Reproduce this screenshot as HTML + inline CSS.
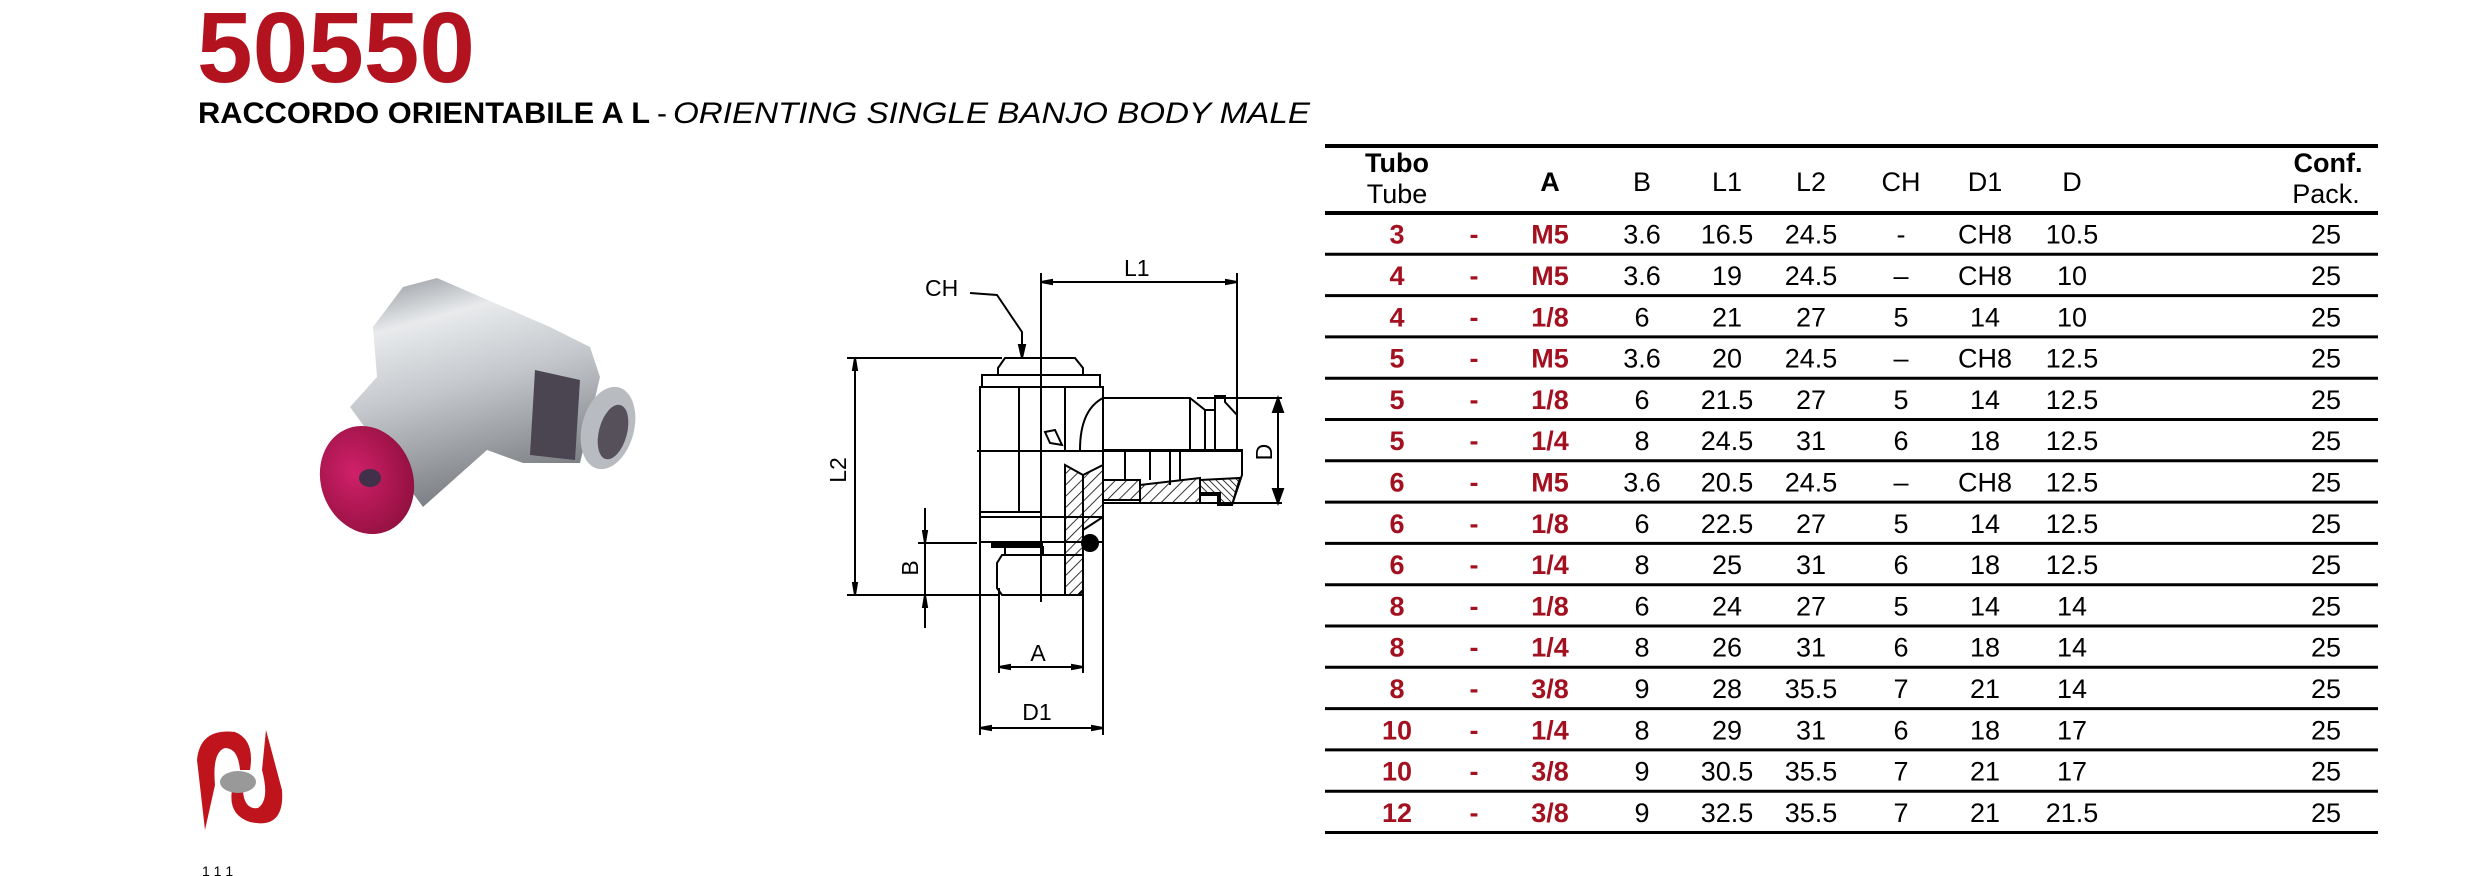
<!DOCTYPE html>
<html><head><meta charset="utf-8"><style>
html,body{margin:0;padding:0;background:#fff;}
svg{display:block}
</style></head><body>
<svg width="2480" height="876" viewBox="0 0 2480 876" xmlns="http://www.w3.org/2000/svg" font-family="Liberation Sans, sans-serif">
<defs>
<pattern id="h" width="8" height="8" patternUnits="userSpaceOnUse" patternTransform="rotate(45)"><line x1="0" y1="0" x2="0" y2="8" stroke="#000" stroke-width="1.6"/></pattern>
<pattern id="h2" width="5" height="5" patternUnits="userSpaceOnUse" patternTransform="rotate(-45)"><line x1="0" y1="0" x2="0" y2="5" stroke="#000" stroke-width="1.6"/></pattern>
<linearGradient id="met" x1="0" y1="0" x2="0.3" y2="1"><stop offset="0" stop-color="#8a8f94"/><stop offset="0.25" stop-color="#e8eaec"/><stop offset="0.55" stop-color="#c4c8cc"/><stop offset="1" stop-color="#7c8085"/></linearGradient>
<radialGradient id="red" cx="0.4" cy="0.4" r="0.7"><stop offset="0" stop-color="#d0206a"/><stop offset="1" stop-color="#8e0f3c"/></radialGradient>
</defs>

<text x="197" y="82" font-size="100" font-weight="bold" fill="#b3121f" textLength="278" lengthAdjust="spacingAndGlyphs">50550</text>
<text x="198" y="123" font-size="30" font-weight="bold" fill="#000" textLength="452" lengthAdjust="spacingAndGlyphs">RACCORDO ORIENTABILE A L</text>
<text x="657" y="123" font-size="30" fill="#000">-</text>
<text x="673" y="123" font-size="30" font-style="italic" fill="#000" textLength="637" lengthAdjust="spacingAndGlyphs">ORIENTING SINGLE BANJO BODY MALE</text>

<!-- Photo -->
<g>
<polygon points="403,287 437,278 550,327 590,347 600,377 580,463 523,463 487,450 423,507 350,407 377,377 373,327" fill="url(#met)"/>
<polygon points="535,370 580,380 575,460 530,455" fill="#4a4550"/>
<ellipse cx="608" cy="428" rx="26" ry="42" fill="#b8bcc0" transform="rotate(15 608 428)"/>
<ellipse cx="613" cy="432" rx="14" ry="28" fill="#55505a" transform="rotate(15 613 432)"/>
<ellipse cx="367" cy="480" rx="46" ry="55" fill="url(#red)" transform="rotate(-20 367 480)"/>
<ellipse cx="370" cy="478" rx="11" ry="9" fill="#40304a"/>
</g>

<!-- Logo -->
<g>
<path d="M205,830 L197,760 Q200,728 235,732 Q255,740 250,770 L240,770 Q238,748 225,748 Q212,752 215,785 Z" fill="#c0141c"/>
<path d="M266,730 L282,790 Q285,830 250,822 Q228,815 232,790 L243,792 Q245,810 258,808 Q270,800 262,770 Z" fill="#c0141c"/>
<ellipse cx="238" cy="782" rx="18" ry="11" fill="#999"/>
<text x="202" y="876" font-size="14" fill="#000">1 1 1</text>
</g>

<!-- Drawing -->
<g stroke="#000" fill="none" stroke-width="2">
<polyline points="970,293 997,295 1022,332 1022,352"/>
<polygon points="1019,345 1025,345 1022,358" fill="#000"/>
<line x1="1041" y1="273" x2="1041" y2="602"/>
<line x1="1041" y1="282" x2="1237" y2="282"/>
<line x1="1237" y1="273" x2="1237" y2="420"/>
<polygon points="1041,282 1052,280 1052,284" fill="#000"/>
<polygon points="1237,282 1226,280 1226,284" fill="#000"/>
<line x1="847" y1="358" x2="1002" y2="358"/>
<line x1="847" y1="595" x2="1000" y2="595"/>
<line x1="855" y1="358" x2="855" y2="595"/>
<polygon points="855,358 853,370 857,370" fill="#000"/>
<polygon points="855,595 853,583 857,583" fill="#000"/>
<polygon points="998,368 1005,358 1075,358 1083,368 1083,375 998,375"/>
<rect x="982" y="375" width="118" height="12"/>
<rect x="980" y="387" width="123" height="130"/>
<line x1="1019" y1="387" x2="1019" y2="512"/>
<line x1="1065" y1="387" x2="1065" y2="450"/>
<line x1="980" y1="512" x2="1041" y2="512"/>
<rect x="980" y="517" width="123" height="25"/>
<rect x="992" y="542" width="50" height="5" fill="#000"/>
<rect x="1005" y="547" width="38" height="8"/>
<polygon points="997,563 1002,555 1083,555 1083,590 1078,595 1002,595 997,588"/>
<polygon points="1065,465 1083,475 1083,595 1065,595" fill="url(#h)"/>
<polygon points="1083,475 1103,465 1103,517 1083,530" fill="url(#h)"/>
<circle cx="1090" cy="543" r="8" fill="#000"/>
<polygon points="1050,443 1045,432 1055,430 1062,445" />
<path d="M1103,398 L1190,398 L1205,410 L1205,450"/>
<path d="M1103,398 Q1080,410 1080,450"/>
<line x1="1190" y1="398" x2="1190" y2="450"/>
<polygon points="1215,396 1225,396 1225,402 1237,415 1237,450 1215,450"/>
<line x1="1205" y1="410" x2="1215" y2="410"/>
<polygon points="1103,450 1103,503 1200,503 1200,493 1220,493 1220,505 1232,505 1242,475 1242,450" />
<polygon points="1103,480 1140,480 1140,500 1103,500" fill="url(#h)"/>
<polygon points="1140,485 1200,478 1200,503 1140,503" fill="url(#h)"/>
<polygon points="1200,480 1240,478 1232,505 1218,505 1218,495 1200,495" fill="url(#h2)"/>
<line x1="1125" y1="450" x2="1125" y2="480"/>
<line x1="1150" y1="450" x2="1150" y2="480"/>
<line x1="1170" y1="450" x2="1170" y2="485"/>
<line x1="1180" y1="450" x2="1180" y2="480"/>
<line x1="977" y1="451" x2="1242" y2="451"/>
<line x1="1197" y1="398" x2="1282" y2="398"/>
<line x1="1197" y1="503" x2="1282" y2="503"/>
<line x1="1278" y1="398" x2="1278" y2="503"/>
<polygon points="1278,398 1273,412 1283,412" fill="#000"/>
<polygon points="1278,503 1273,489 1283,489" fill="#000"/>
<line x1="925" y1="508" x2="925" y2="628"/>
<line x1="918" y1="543" x2="977" y2="543"/>
<polygon points="925,543 923,531 927,531" fill="#000"/>
<polygon points="925,595 923,607 927,607" fill="#000"/>
<line x1="999" y1="588" x2="999" y2="673"/>
<line x1="1083" y1="595" x2="1083" y2="673"/>
<line x1="999" y1="667" x2="1083" y2="667"/>
<polygon points="999,667 1010,665 1010,669" fill="#000"/>
<polygon points="1083,667 1072,665 1072,669" fill="#000"/>
<line x1="980" y1="542" x2="980" y2="735"/>
<line x1="1103" y1="517" x2="1103" y2="735"/>
<line x1="980" y1="728" x2="1103" y2="728"/>
<polygon points="980,728 991,726 991,730" fill="#000"/>
<polygon points="1103,728 1092,726 1092,730" fill="#000"/>
</g>
<g font-size="23" fill="#000">
<text x="925" y="296">CH</text>
<text x="1124" y="276">L1</text>
<text x="846" y="470" transform="rotate(-90 846 470)" text-anchor="middle">L2</text>
<text x="1272" y="452" transform="rotate(-90 1272 452)" text-anchor="middle">D</text>
<text x="918" y="568" transform="rotate(-90 918 568)" text-anchor="middle">B</text>
<text x="1038" y="661" text-anchor="middle">A</text>
<text x="1037" y="720" text-anchor="middle">D1</text>
</g>

<!-- Table -->
<g stroke="#000">
<line x1="1325" y1="146" x2="2378" y2="146" stroke-width="4"/>
<line x1="1325" y1="213" x2="2378" y2="213" stroke-width="4"/>
<g stroke-width="3">
<line x1="1325" y1="254.3" x2="2378" y2="254.3"/>
<line x1="1325" y1="295.6" x2="2378" y2="295.6"/>
<line x1="1325" y1="336.9" x2="2378" y2="336.9"/>
<line x1="1325" y1="378.2" x2="2378" y2="378.2"/>
<line x1="1325" y1="419.5" x2="2378" y2="419.5"/>
<line x1="1325" y1="460.8" x2="2378" y2="460.8"/>
<line x1="1325" y1="502.1" x2="2378" y2="502.1"/>
<line x1="1325" y1="543.4" x2="2378" y2="543.4"/>
<line x1="1325" y1="584.7" x2="2378" y2="584.7"/>
<line x1="1325" y1="626" x2="2378" y2="626"/>
<line x1="1325" y1="667.3" x2="2378" y2="667.3"/>
<line x1="1325" y1="708.6" x2="2378" y2="708.6"/>
<line x1="1325" y1="749.9" x2="2378" y2="749.9"/>
<line x1="1325" y1="791.2" x2="2378" y2="791.2"/>
<line x1="1325" y1="832.5" x2="2378" y2="832.5"/>
</g>
</g>
<g font-size="27" fill="#000" text-anchor="middle">
<text x="1397" y="172" font-weight="bold">Tubo</text>
<text x="1397" y="203">Tube</text>
<text x="1550" y="191" font-weight="bold">A</text>
<text x="1642" y="191">B</text>
<text x="1727" y="191">L1</text>
<text x="1811" y="191">L2</text>
<text x="1901" y="191">CH</text>
<text x="1985" y="191">D1</text>
<text x="2072" y="191">D</text>
<text x="2328" y="172" font-weight="bold">Conf.</text>
<text x="2326" y="203">Pack.</text>
</g>
<g font-size="27" text-anchor="middle">
<g transform="translate(0,243.7)"><g fill="#a3101f" font-weight="bold"><text x="1397">3</text><text x="1474">-</text><text x="1550">M5</text></g><text x="1642">3.6</text><text x="1727">16.5</text><text x="1811">24.5</text><text x="1901">-</text><text x="1985">CH8</text><text x="2072">10.5</text><text x="2326">25</text></g>
<g transform="translate(0,285)"><g fill="#a3101f" font-weight="bold"><text x="1397">4</text><text x="1474">-</text><text x="1550">M5</text></g><text x="1642">3.6</text><text x="1727">19</text><text x="1811">24.5</text><text x="1901">–</text><text x="1985">CH8</text><text x="2072">10</text><text x="2326">25</text></g>
<g transform="translate(0,326.3)"><g fill="#a3101f" font-weight="bold"><text x="1397">4</text><text x="1474">-</text><text x="1550">1/8</text></g><text x="1642">6</text><text x="1727">21</text><text x="1811">27</text><text x="1901">5</text><text x="1985">14</text><text x="2072">10</text><text x="2326">25</text></g>
<g transform="translate(0,367.6)"><g fill="#a3101f" font-weight="bold"><text x="1397">5</text><text x="1474">-</text><text x="1550">M5</text></g><text x="1642">3.6</text><text x="1727">20</text><text x="1811">24.5</text><text x="1901">–</text><text x="1985">CH8</text><text x="2072">12.5</text><text x="2326">25</text></g>
<g transform="translate(0,408.9)"><g fill="#a3101f" font-weight="bold"><text x="1397">5</text><text x="1474">-</text><text x="1550">1/8</text></g><text x="1642">6</text><text x="1727">21.5</text><text x="1811">27</text><text x="1901">5</text><text x="1985">14</text><text x="2072">12.5</text><text x="2326">25</text></g>
<g transform="translate(0,450.2)"><g fill="#a3101f" font-weight="bold"><text x="1397">5</text><text x="1474">-</text><text x="1550">1/4</text></g><text x="1642">8</text><text x="1727">24.5</text><text x="1811">31</text><text x="1901">6</text><text x="1985">18</text><text x="2072">12.5</text><text x="2326">25</text></g>
<g transform="translate(0,491.5)"><g fill="#a3101f" font-weight="bold"><text x="1397">6</text><text x="1474">-</text><text x="1550">M5</text></g><text x="1642">3.6</text><text x="1727">20.5</text><text x="1811">24.5</text><text x="1901">–</text><text x="1985">CH8</text><text x="2072">12.5</text><text x="2326">25</text></g>
<g transform="translate(0,532.8)"><g fill="#a3101f" font-weight="bold"><text x="1397">6</text><text x="1474">-</text><text x="1550">1/8</text></g><text x="1642">6</text><text x="1727">22.5</text><text x="1811">27</text><text x="1901">5</text><text x="1985">14</text><text x="2072">12.5</text><text x="2326">25</text></g>
<g transform="translate(0,574.1)"><g fill="#a3101f" font-weight="bold"><text x="1397">6</text><text x="1474">-</text><text x="1550">1/4</text></g><text x="1642">8</text><text x="1727">25</text><text x="1811">31</text><text x="1901">6</text><text x="1985">18</text><text x="2072">12.5</text><text x="2326">25</text></g>
<g transform="translate(0,615.4)"><g fill="#a3101f" font-weight="bold"><text x="1397">8</text><text x="1474">-</text><text x="1550">1/8</text></g><text x="1642">6</text><text x="1727">24</text><text x="1811">27</text><text x="1901">5</text><text x="1985">14</text><text x="2072">14</text><text x="2326">25</text></g>
<g transform="translate(0,656.7)"><g fill="#a3101f" font-weight="bold"><text x="1397">8</text><text x="1474">-</text><text x="1550">1/4</text></g><text x="1642">8</text><text x="1727">26</text><text x="1811">31</text><text x="1901">6</text><text x="1985">18</text><text x="2072">14</text><text x="2326">25</text></g>
<g transform="translate(0,698)"><g fill="#a3101f" font-weight="bold"><text x="1397">8</text><text x="1474">-</text><text x="1550">3/8</text></g><text x="1642">9</text><text x="1727">28</text><text x="1811">35.5</text><text x="1901">7</text><text x="1985">21</text><text x="2072">14</text><text x="2326">25</text></g>
<g transform="translate(0,739.3)"><g fill="#a3101f" font-weight="bold"><text x="1397">10</text><text x="1474">-</text><text x="1550">1/4</text></g><text x="1642">8</text><text x="1727">29</text><text x="1811">31</text><text x="1901">6</text><text x="1985">18</text><text x="2072">17</text><text x="2326">25</text></g>
<g transform="translate(0,780.6)"><g fill="#a3101f" font-weight="bold"><text x="1397">10</text><text x="1474">-</text><text x="1550">3/8</text></g><text x="1642">9</text><text x="1727">30.5</text><text x="1811">35.5</text><text x="1901">7</text><text x="1985">21</text><text x="2072">17</text><text x="2326">25</text></g>
<g transform="translate(0,821.9)"><g fill="#a3101f" font-weight="bold"><text x="1397">12</text><text x="1474">-</text><text x="1550">3/8</text></g><text x="1642">9</text><text x="1727">32.5</text><text x="1811">35.5</text><text x="1901">7</text><text x="1985">21</text><text x="2072">21.5</text><text x="2326">25</text></g>
</g>
</svg>
</body></html>
